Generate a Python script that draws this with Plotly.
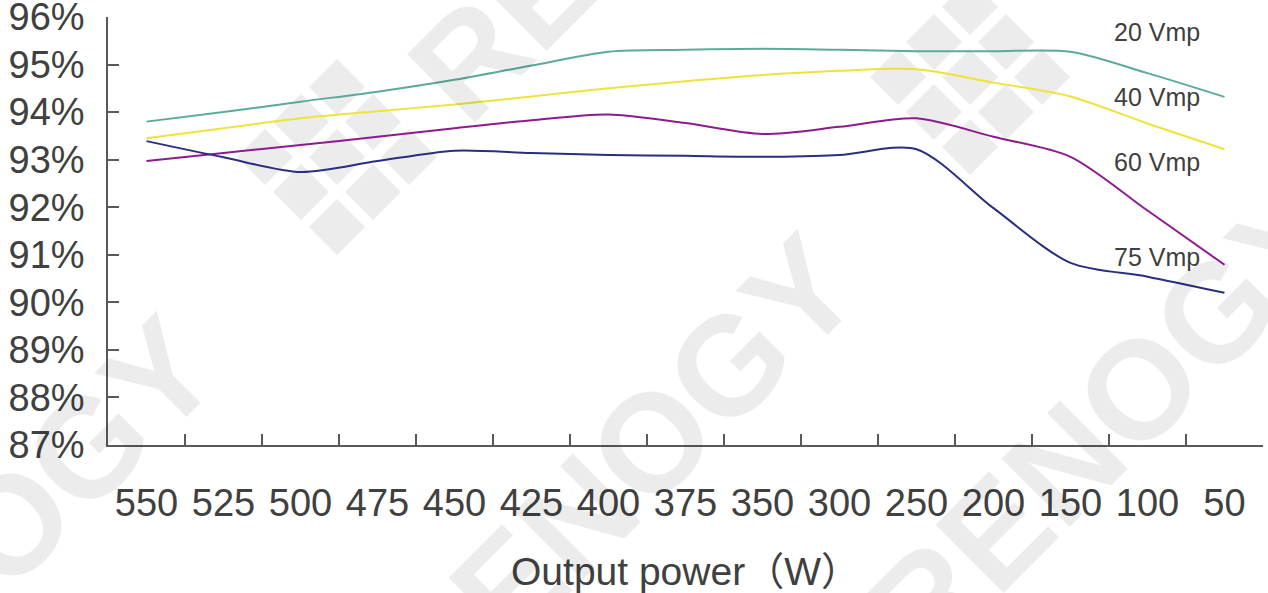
import plotly.graph_objects as go

# Output power categories (W), highest to lowest
power_w = ["550", "525", "500", "475", "450", "425", "400", "375",
           "350", "300", "250", "200", "150", "100", "50"]

# Conversion efficiency (%) at each output power, per PV input voltage
eff_20vmp = [93.80, 94.00, 94.22, 94.43, 94.68, 94.98, 95.27, 95.31,
             95.33, 95.31, 95.28, 95.28, 95.27, 94.82, 94.32]
eff_40vmp = [93.45, 93.66, 93.87, 94.02, 94.16, 94.33, 94.50, 94.65,
             94.78, 94.87, 94.90, 94.62, 94.33, 93.76, 93.22]
eff_60vmp = [92.97, 93.14, 93.31, 93.48, 93.66, 93.83, 93.95, 93.77,
             93.54, 93.69, 93.87, 93.48, 93.06, 91.93, 90.79]
eff_75vmp = [93.39, 93.05, 92.74, 92.97, 93.19, 93.14, 93.10, 93.08,
             93.06, 93.10, 93.22, 91.98, 90.83, 90.54, 90.20]

series_names = ["20 Vmp", "40 Vmp", "60 Vmp", "75 Vmp"]
series_values = [eff_20vmp, eff_40vmp, eff_60vmp, eff_75vmp]
series_colors = ["#5BAA9B", "#EDE33B", "#8C1C8E", "#2A2E7E"]
# vertical position of each end label, in axis units
label_y = [95.68, 94.32, 92.95, 90.95]

FONT = "Liberation Sans, Arial, Noto Sans CJK SC, sans-serif"
TEXT = "#404040"
AXIS = "#595959"
MARK = "#ECECEC"

W, H = 1268, 593
M_L, M_R, M_T, M_B = 108, 5, 17, 148


def px_to_paper(px, py):
    """Canvas pixel -> paper coordinates of the plot area."""
    return (px - M_L) / (W - M_L - M_R), (H - M_B - py) / (H - M_T - M_B)


fig = go.Figure()

for name, vals, col in zip(series_names, series_values, series_colors):
    fig.add_trace(go.Scatter(
        x=power_w, y=vals, name=name, mode="lines",
        line=dict(color=col, width=2, shape="spline", smoothing=0.8),
        cliponaxis=False, hoverinfo="x+y+name",
    ))

# Series names written at the right-hand end of the curves
for name, yv in zip(series_names, label_y):
    fig.add_annotation(
        x=px_to_paper(1112, 0)[0], xref="paper", xanchor="left",
        y=yv, yref="y", yanchor="middle",
        text=name, showarrow=False,
        font=dict(family=FONT, size=25, color=TEXT),
    )

# Light diagonal brand watermark: wordmarks ...
for cx, cy in [(618, 475), (1105, 422), (-23, 557), (648, -120)]:
    xp, yp = px_to_paper(cx, cy)
    fig.add_annotation(
        x=xp, y=yp, xref="paper", yref="paper",
        xanchor="center", yanchor="middle",
        text="<b>RENOGY</b>", showarrow=False, textangle=-45,
        font=dict(family="Liberation Sans, Arial", size=140,
                  color="rgba(0,0,0,0.075)"),
    )

# ... and the tiled-diamond logo, drawn beneath the curves
shapes = []
for lx, ly in [(337, 157), (970, 77)]:
    for i in (-1, 0, 1):
        for j in (-1, 0, 1):
            cx = lx + 36 * (i + j)
            cy = ly + 35 * (j - i)
            h = 28
            pts = [px_to_paper(cx, cy - h), px_to_paper(cx + h, cy),
                   px_to_paper(cx, cy + h), px_to_paper(cx - h, cy)]
            path = "M " + " L ".join(f"{x:.5f},{y:.5f}" for x, y in pts) + " Z"
            shapes.append(dict(type="path", path=path, xref="paper",
                               yref="paper", fillcolor=MARK,
                               line=dict(width=0), layer="below"))

fig.update_layout(
    width=W, height=H,
    margin=dict(l=M_L, r=M_R, t=M_T, b=M_B, autoexpand=False),
    paper_bgcolor="white", plot_bgcolor="rgba(0,0,0,0)",
    showlegend=False, shapes=shapes,
    font=dict(family=FONT, color=TEXT),
)

fig.update_xaxes(
    type="category", range=[-0.5, 14.5],
    tickson="boundaries", ticks="inside", ticklen=11,
    tickwidth=1.5, tickcolor=AXIS,
    showline=True, linecolor=AXIS, linewidth=1.5,
    showgrid=False, zeroline=False,
    tickfont=dict(family=FONT, size=38, color=TEXT),
    ticklabelstandoff=24, ticklabeloverflow="allow",
    title=dict(text="Output power（W）", standoff=34,
               font=dict(family=FONT, size=39, color=TEXT)),
    automargin=False,
)

fig.update_yaxes(
    range=[87, 96], dtick=1, tick0=87, ticksuffix="%",
    ticks="inside", ticklen=11, tickwidth=1.5, tickcolor=AXIS,
    showline=True, linecolor=AXIS, linewidth=1.5,
    showgrid=False, zeroline=False,
    tickfont=dict(family=FONT, size=38, color=TEXT),
    ticklabelstandoff=14, ticklabeloverflow="allow",
    automargin=False,
)

fig.write_html("out.html")
